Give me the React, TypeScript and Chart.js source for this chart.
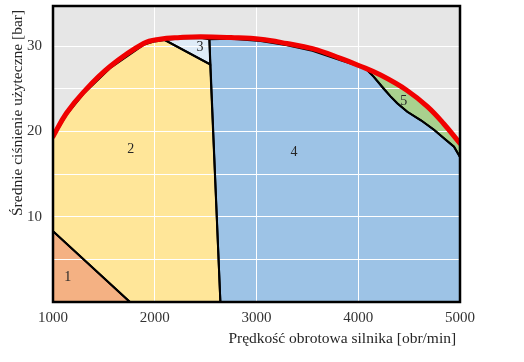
import React, { useEffect, useRef } from "react";
import { Chart, registerables } from "chart.js";

Chart.register(...registerables);

// Axis ticks
const X_MIN = 1000;
const X_MAX = 5000;
const X_STEP = 1000;
const Y_MIN = 0;
const Y_MAX = 34.7;
const Y_GRID_STEP = 5;
const Y_TICK_LABELS = [10, 20, 30];

// Red curve: maximum mean effective pressure
const maxRpm = [1000, 1130, 1300, 1560, 1890, 2050, 2250, 2450, 2750, 3040, 3300, 3550, 3820, 4010, 4220, 4480, 4680, 4840, 5000];
const maxBar = [19.4, 22.1, 24.6, 27.6, 30.3, 30.8, 31.0, 31.1, 31.0, 30.8, 30.3, 29.7, 28.6, 27.7, 26.6, 24.8, 22.9, 20.9, 18.6];

// Region 1
const r1Rpm = [1000, 1756, 1000, 1000];
const r1Bar = [8.3, 0, 0, 8.3];

// Region 2
const r2Rpm = [1000, 1000, 1130, 1300, 1560, 1890, 2000, 2100, 2545, 2645, 1756, 1000];
const r2Bar = [8.3, 19.3, 21.9, 24.4, 27.4, 30.15, 30.55, 30.7, 27.85, 0, 0, 8.3];

// Region 3
const r3Rpm = [2100, 2250, 2450, 2537, 2545, 2100];
const r3Bar = [30.7, 30.9, 30.95, 30.8, 27.85, 30.7];

// Region 4
const r4Rpm = [2537, 2750, 3040, 3300, 3550, 3820, 4071, 4153, 4251, 4317, 4383, 4482, 4616, 4744, 4842, 4941, 5000, 5000, 2645, 2537];
const r4Bar = [30.8, 30.85, 30.6, 30.1, 29.45, 28.35, 27.4, 26.4, 25.0, 24.1, 23.3, 22.3, 21.3, 20.2, 19.2, 18.2, 17.0, 0, 0, 30.8];

// Region 5
const r5Rpm = [4030, 4220, 4480, 4680, 4840, 5000, 5000, 4941, 4842, 4744, 4616, 4482, 4383, 4317, 4251, 4153, 4071, 4030];
const r5Bar = [27.55, 26.6, 24.8, 22.9, 20.9, 18.6, 17.0, 18.2, 19.2, 20.2, 21.3, 22.3, 23.3, 24.1, 25.0, 26.4, 27.4, 27.55];

// Region labels
const regionNames = ["1", "2", "3", "4", "5"];
const regionLabelRpm = [1145, 1763, 2445, 3368, 4448];
const regionLabelBar = [2.9, 17.9, 29.8, 17.6, 23.5];

const COLORS = {
  bg: "#e6e6e6",
  r1: "#f4b183",
  r2: "#ffe699",
  r3: "#deebf7",
  r4: "#9dc3e6",
  r5: "#a9d18e",
  red: "#f00000",
};

const FONT = '"Liberation Serif", "Times New Roman", serif';

function pts(xs: number[], ys: number[]) {
  return xs.map((x, i) => ({ x, y: ys[i] }));
}

function region(label: string, xs: number[], ys: number[], color: string) {
  return {
    type: "line" as const,
    label,
    data: pts(xs, ys),
    backgroundColor: color,
    borderColor: "#000000",
    borderWidth: 2,
    fill: "shape",
    tension: 0,
    pointRadius: 0,
    pointHoverRadius: 0,
    order: 1,
  };
}

export default function App() {
  const ref = useRef<HTMLCanvasElement | null>(null);

  useEffect(() => {
    if (!ref.current) return;

    const bgPlugin = {
      id: "plotBg",
      beforeDraw(chart: any) {
        const { ctx, chartArea: a } = chart;
        ctx.save();
        ctx.fillStyle = COLORS.bg;
        ctx.fillRect(a.left, a.top, a.right - a.left, a.bottom - a.top);
        ctx.restore();
      },
      beforeDatasetsDraw(chart: any) {
        // grid over the fills, under the outlines
        chart.scales.x.drawGrid(chart.chartArea);
        chart.scales.y.drawGrid(chart.chartArea);
      },
      afterDatasetsDraw(chart: any) {
        const { ctx, chartArea: a, scales } = chart;
        ctx.save();
        ctx.fillStyle = "#262626";
        ctx.font = `14px ${FONT}`;
        ctx.textAlign = "center";
        ctx.textBaseline = "middle";
        regionNames.forEach((n, i) => {
          ctx.fillText(
            n,
            scales.x.getPixelForValue(regionLabelRpm[i]),
            scales.y.getPixelForValue(regionLabelBar[i])
          );
        });
        ctx.strokeStyle = "#000000";
        ctx.lineWidth = 2.5;
        ctx.strokeRect(a.left, a.top, a.right - a.left, a.bottom - a.top);
        ctx.restore();
      },
    };

    const chart = new Chart(ref.current, {
      type: "line",
      data: {
        datasets: [
          {
            type: "line",
            label: "max",
            data: pts(maxRpm, maxBar),
            borderColor: COLORS.red,
            borderWidth: 5,
            fill: false,
            tension: 0.4,
            pointRadius: 0,
            pointHoverRadius: 0,
            order: 0,
            borderCapStyle: "round",
          } as any,
          region("5", r5Rpm, r5Bar, COLORS.r5),
          region("4", r4Rpm, r4Bar, COLORS.r4),
          region("3", r3Rpm, r3Bar, COLORS.r3),
          region("2", r2Rpm, r2Bar, COLORS.r2),
          region("1", r1Rpm, r1Bar, COLORS.r1),
        ] as any,
      },
      options: {
        animation: false,
        responsive: true,
        maintainAspectRatio: false,
        events: [],
        layout: { padding: { top: 6, right: 64, left: 0, bottom: 0 } },
        plugins: {
          legend: { display: false },
          tooltip: { enabled: false },
          filler: { drawTime: "beforeDatasetsDraw" } as any,
        },
        scales: {
          x: {
            type: "linear",
            min: X_MIN,
            max: X_MAX,
            afterFit(scale: any) {
              scale.height = 60;
              scale.paddingLeft = 0;
              scale.paddingRight = 0;
            },
            ticks: {
              stepSize: X_STEP,
              padding: 7,
              color: "#333333",
              font: { family: FONT, size: 15 },
              callback: (v: any) => String(v),
            },
            grid: { color: "#ffffff", lineWidth: 1, drawTicks: false },
            border: { display: false },
            title: {
              display: true,
              text: "Prędkość obrotowa silnika [obr/min] ",
              align: "end",
              color: "#262626",
              font: { family: FONT, size: 15.5 },
              padding: { top: 0, bottom: 14 },
            },
          },
          y: {
            type: "linear",
            min: Y_MIN,
            max: Y_MAX,
            afterFit(scale: any) {
              scale.width = 53;
              scale.paddingTop = 0;
              scale.paddingBottom = 0;
            },
            ticks: {
              stepSize: Y_GRID_STEP,
              includeBounds: false,
              autoSkip: false,
              padding: 11,
              color: "#333333",
              font: { family: FONT, size: 15 },
              callback: (v: any) => (Y_TICK_LABELS.includes(Number(v)) ? String(v) : ""),
            },
            grid: { color: "#ffffff", lineWidth: 1, drawTicks: false },
            border: { display: false },
            title: {
              display: true,
              text: "Średnie ciśnienie użyteczne [bar] ",
              align: "end",
              color: "#262626",
              font: { family: FONT, size: 15.5 },
              padding: { top: 9, bottom: 0 },
            },
          },
        },
      },
      plugins: [bgPlugin],
    } as any);

    return () => chart.destroy();
  }, []);

  return (
    <div style={{ position: "absolute", left: 0, top: 0, width: 524, height: 362 }}>
      <canvas ref={ref} />
    </div>
  );
}
